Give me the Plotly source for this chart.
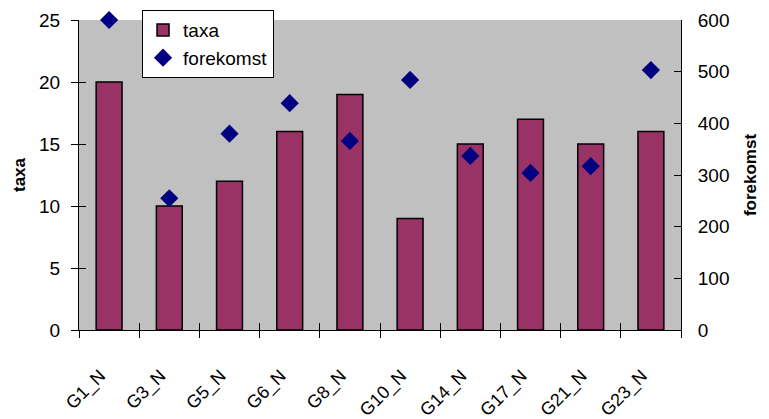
import plotly.graph_objects as go

categories = ["G1_N", "G3_N", "G5_N", "G6_N", "G8_N", "G10_N", "G14_N", "G17_N", "G21_N", "G23_N"]
taxa = [20, 10, 12, 16, 19, 9, 15, 17, 15, 16]
forekomst = [600, 255, 380, 439, 366, 484, 337, 304, 317, 503]
left_ticks = [0, 5, 10, 15, 20, 25]
right_ticks = [0, 100, 200, 300, 400, 500, 600]

FONT = "Liberation Sans, Arial, sans-serif"
n = len(categories)
idx = list(range(n))
boundaries = [i - 0.5 for i in range(n + 1)]

fig = go.Figure()
fig.add_trace(go.Bar(
    x=idx, y=taxa, name="taxa",
    marker=dict(color="#993366", line=dict(color="black", width=1.5)),
    yaxis="y", xaxis="x",
))
fig.add_trace(go.Scatter(
    x=idx, y=forekomst, name="forekomst", mode="markers",
    marker=dict(symbol="diamond", size=14, color="#000080"),
    yaxis="y2", xaxis="x", cliponaxis=False,
))
# invisible helpers so that the overlay tick axes are drawn
for xa, ya in [("x2", "y"), ("x3", "y3")]:
    fig.add_trace(go.Scatter(
        x=idx, y=taxa, mode="markers", marker=dict(opacity=0),
        xaxis=xa, yaxis=ya, showlegend=False, hoverinfo="skip",
    ))

xcommon = dict(range=[-0.5, n - 0.5], showgrid=False, zeroline=False, automargin=False)
ycommon = dict(range=[0, 25], showgrid=False, zeroline=False, automargin=False)

fig.update_layout(
    width=769, height=419,
    margin=dict(l=71, r=96, t=12, b=97, autoexpand=False),
    paper_bgcolor="white", plot_bgcolor="#C0C0C0",
    font=dict(family=FONT, size=16, color="black"),
    bargap=0.57,
    showlegend=True,
    legend=dict(
        x=0.1047, y=1.032, xanchor="left", yanchor="top",
        bgcolor="white", bordercolor="black", borderwidth=1,
        font=dict(family=FONT, size=19),
    ),
    xaxis=dict(
        **xcommon, tickmode="array", tickvals=idx, ticktext=categories,
        tickangle=-45, ticks="", showline=True, linecolor="black", linewidth=1,
        tickfont=dict(family=FONT, size=18), ticklabelstandoff=27, ticklabelshift=-9,
    ),
    xaxis2=dict(
        **xcommon, overlaying="x", anchor="y", tickmode="array",
        tickvals=boundaries, showticklabels=False, ticks="outside", ticklen=7,
        tickcolor="black", tickwidth=1, showline=False, side="bottom",
    ),
    xaxis3=dict(
        **xcommon, overlaying="x", anchor="y3", tickmode="array",
        tickvals=boundaries, showticklabels=False, ticks="inside", ticklen=7,
        tickcolor="black", tickwidth=1, showline=False, side="bottom",
    ),
    yaxis=dict(
        **ycommon, tickmode="array", tickvals=left_ticks,
        ticks="outside", ticklen=7, tickcolor="black",
        showline=True, linecolor="black", linewidth=1, ticklabelstandoff=7,
        title=dict(text="<b>taxa</b>", font=dict(family=FONT, size=17), standoff=9),
        tickfont=dict(family=FONT, size=19),
    ),
    yaxis3=dict(
        **ycommon, overlaying="y", anchor="x3", tickmode="array", tickvals=left_ticks,
        ticks="inside", ticklen=7, tickcolor="black", showticklabels=False,
        showline=False, side="left",
    ),
    yaxis2=dict(
        overlaying="y", side="right", anchor="x", range=[0, 600], tickmode="array",
        tickvals=right_ticks, ticks="inside", ticklen=7, tickcolor="black",
        showgrid=False, zeroline=False, showline=True, linecolor="black", linewidth=1,
        automargin=False, ticklabelstandoff=12,
        title=dict(text="<b>forekomst</b>", font=dict(family=FONT, size=17), standoff=15),
        tickfont=dict(family=FONT, size=19),
    ),
)

fig.write_html("out.html")
